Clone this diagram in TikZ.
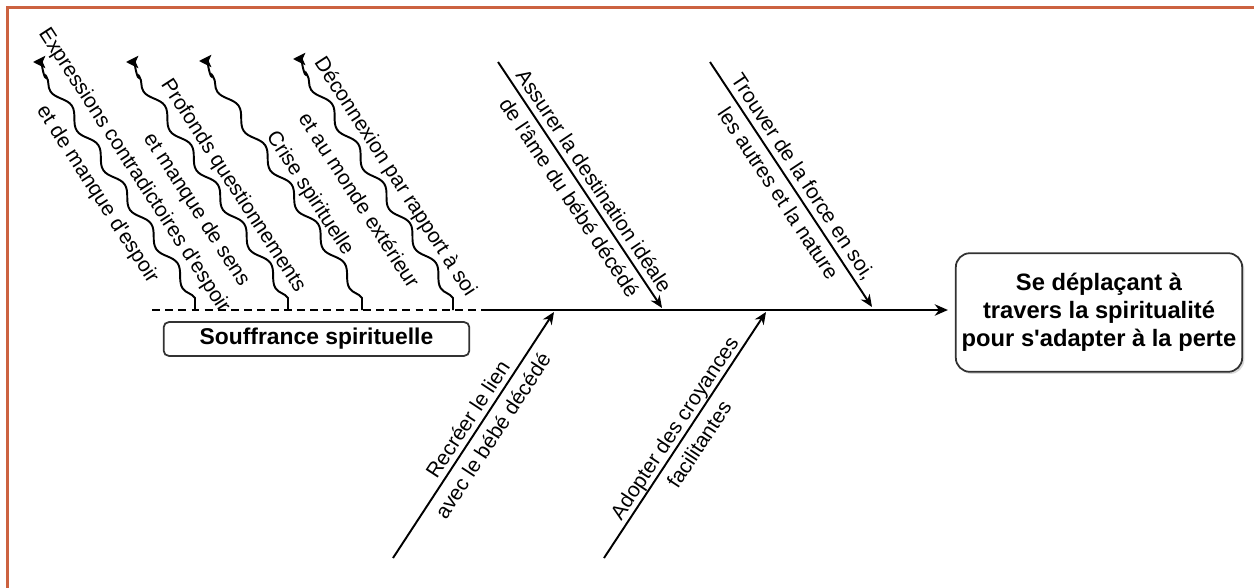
\documentclass[tikz,border=0pt]{standalone}
\usepackage{fontspec}
\setmainfont{Liberation Sans}[Ligatures=TeXOff]
\usetikzlibrary{arrows.meta,decorations.pathmorphing,shadows}
\definecolor{bordercol}{RGB}{204,98,64}
\definecolor{boxline}{RGB}{50,50,50}
\begin{document}
\begin{tikzpicture}[x=0.02cm,y=-0.02cm,
  lbl/.style={font=\fontsize{11.9}{17}\selectfont, align=center, inner sep=0pt},
  spoke/.style={line width=1.1pt, -{Stealth[length=7pt,width=6pt]}},
  wavy/.style={line width=1.1pt, -{Stealth[length=7pt,width=7pt,inset=1.5pt]},
    decoration={snake,amplitude=2.8pt,segment length=27pt}},
  causebox/.style={draw=boxline, line width=1pt, rounded corners=3pt, inner sep=0pt,
    minimum width=174pt, minimum height=19.3pt, font=\bfseries\fontsize{13}{15}\selectfont},
  goalbox/.style={draw=boxline, line width=1pt, rounded corners=8pt, inner sep=0pt,
    minimum width=163pt, minimum height=67.5pt, align=center, fill=white,
    font=\bfseries\fontsize{13.5}{15.9}\selectfont,
    drop shadow={shadow xshift=1.2pt,shadow yshift=-1.2pt,opacity=0.3,fill=gray}},
]
\useasboundingbox (0,0) rectangle (1254,588);
\draw[bordercol, line width=1.2pt] (7.5,588) -- (7.5,7.5) -- (1254,7.5);

% boxes
\node[goalbox] (goal) at (1099,312.5) {Se déplaçant à\\travers la spiritualité\\pour s'adapter à la perte};
\node[causebox] (cat) at (316.5,339) {Souffrance spirituelle};

% spine
\coordinate (s0) at (152,310);
\coordinate (s1) at (481,310);
\draw[line width=1.3pt, dash pattern=on 4.5pt off 3pt] (s0) -- (s1);
\draw[line width=1.3pt, -{Stealth[length=7.5pt,width=6.5pt]}, shorten >=4pt] (s1) -- (goal.west |- s1);

% wavy causes
\coordinate (w1b) at (195,310); \coordinate (w1s) at (46,76); \coordinate (w1t) at (33,62);
\coordinate (w2b) at (288,310); \coordinate (w2s) at (139,76); \coordinate (w2t) at (126,62);
\coordinate (w3b) at (362,310); \coordinate (w3s) at (212,75); \coordinate (w3t) at (199,61);
\coordinate (w4b) at (453,310); \coordinate (w4s) at (306,73); \coordinate (w4t) at (293,59);
\foreach \i in {1,2,3,4}{
  \draw[wavy] (w\i b) -- ++(0,-12) decorate {-- (w\i s)} to[out=-95,in=0] (w\i t);
}

\node[lbl, rotate=-57] (lw1) at (115.5,182.5) {Expressions contradictoires d'espoir\\[8pt]et de manque d'espoir};
\node[lbl, rotate=-57] (lw2) at (214.5,198) {Profonds questionnements\\[8pt]et manque de sens};
\node[lbl, rotate=-57] (lw3) at (309.5,193.5) {Crise spirituelle};
\node[lbl, rotate=-57] (lw4) at (378,188) {Déconnexion par rapport à soi\\[8pt]et au monde extérieur};

% straight spokes
\coordinate (a1) at (498,62);  \coordinate (a1e) at (662,308);
\coordinate (a2) at (710,62);  \coordinate (a2e) at (872,307);
\coordinate (b1) at (393,558); \coordinate (b1e) at (554,312);
\coordinate (b2) at (604,558); \coordinate (b2e) at (766,312);
\draw[spoke] (a1) -- (a1e);
\draw[spoke] (a2) -- (a2e);
\draw[spoke] (b1) -- (b1e);
\draw[spoke] (b2) -- (b2e);

\node[lbl, rotate=-56.3] (la1) at (582,189) {Assurer la destination idéale\\de l'âme du bébé décédé};
\node[lbl, rotate=-56.5] (la2) at (791,185) {Trouver de la force en soi,\\les autres et la nature};
\node[lbl, rotate=56.8] (lb1) at (480,427.5) {Recréer le lien\\avec le bébé décédé};
\node[lbl, rotate=56.5] (lb2) at (686.5,436) {Adopter des croyances\\facilitantes};
\end{tikzpicture}
\end{document}
